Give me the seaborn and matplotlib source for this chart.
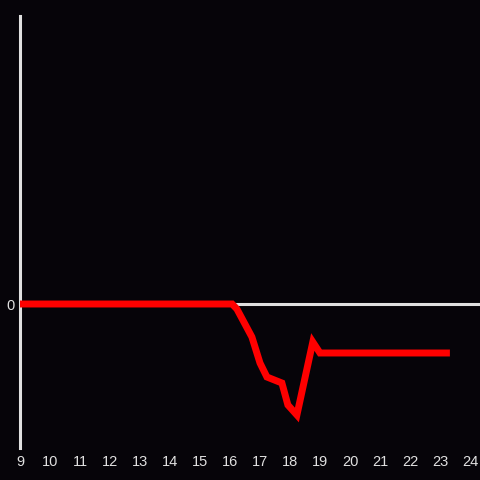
import matplotlib
matplotlib.use("Agg")
import matplotlib.pyplot as plt
import seaborn as sns
import pandas as pd

hours = [9, 10, 11, 12, 13, 14, 15, 16.07, 16.23, 16.73, 17.0, 17.23, 17.73,
         17.93, 18.23, 18.76, 19.0, 20, 21, 22, 23, 23.33]
values = [0, 0, 0, 0, 0, 0, 0, 0, -0.05, -0.33, -0.59, -0.73, -0.79,
          -1.01, -1.11, -0.38, -0.49, -0.49, -0.49, -0.49, -0.49, -0.49]
xticks = list(range(9, 25))

df = pd.DataFrame({"hour": hours, "value": values})

bg = "#060409"
fg = "#e0e0e0"

sns.set_style("dark")
plt.rcParams["font.family"] = ["Liberation Sans", "DejaVu Sans"]

fig = plt.figure(figsize=(4.8, 4.8), dpi=100, facecolor=bg)
ax = fig.add_axes([20 / 480, 32 / 480, 460 / 480, 432 / 480])
ax.set_facecolor(bg)

ax.axhline(0, color=fg, lw=2.2, zorder=1)
sns.lineplot(data=df, x="hour", y="value", color="#ff0000", lw=5,
             ax=ax, zorder=3, solid_capstyle="butt", solid_joinstyle="miter")

ax.set_xlim(9, 9 + 460 / 30)
ax.set_ylim(-1.44, 2.88)
ax.set_xticks(xticks)
ax.set_yticks([0])
ax.tick_params(colors=fg, labelcolor=fg, length=0, labelsize=10.5)
ax.tick_params(axis="x", pad=5)
ax.tick_params(axis="y", pad=4)
ax.set_xlabel("")
ax.set_ylabel("")
ax.grid(False)
for s in ["top", "right", "bottom"]:
    ax.spines[s].set_visible(False)
ax.spines["left"].set_color(fg)
ax.spines["left"].set_linewidth(2.2)

fig.savefig("out.png", dpi=100, facecolor=bg)
